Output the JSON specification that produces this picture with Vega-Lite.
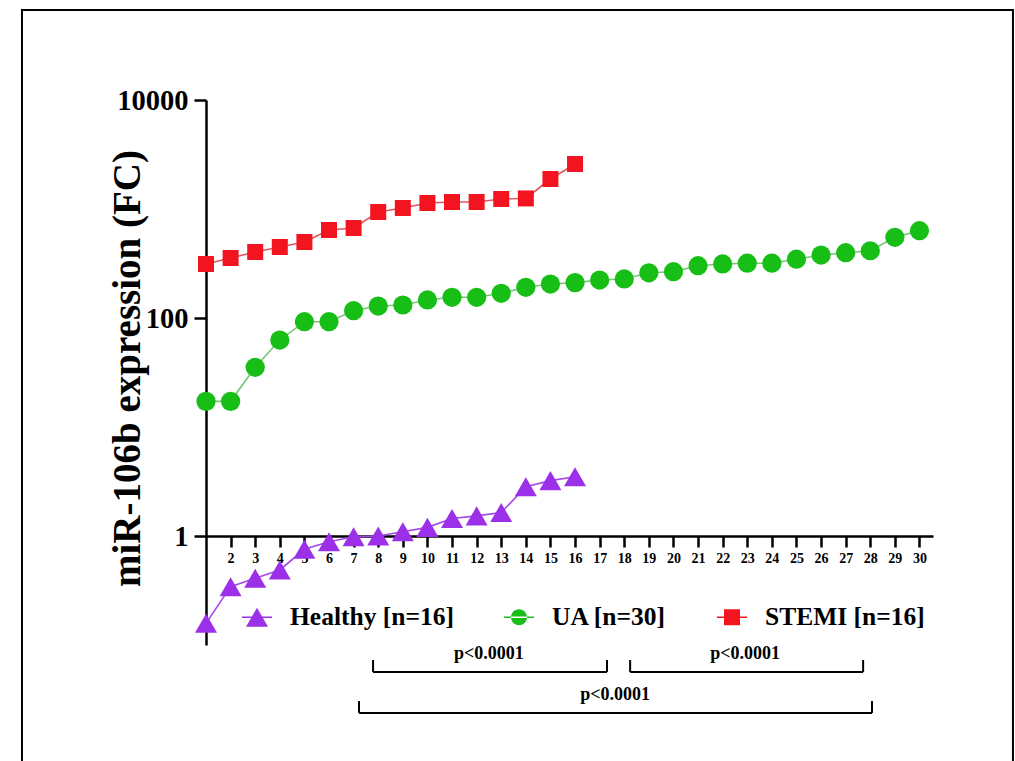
{
  "$schema": "https://vega.github.io/schema/vega-lite/v6.json",
  "width": 727,
  "height": 545,
  "autosize": {"type": "none"},
  "padding": {"left": 206, "top": 100, "right": 82, "bottom": 116},
  "background": "white",
  "config": {
    "view": {"stroke": null},
    "font": "Liberation Serif",
    "axis": {
      "grid": false, "domainColor": "black", "domainWidth": 2.5,
      "tickColor": "black", "tickWidth": 2.5,
      "labelFont": "Liberation Serif", "labelFontWeight": "bold", "labelColor": "black",
      "labelFlush": false, "labelOverlap": false
    }
  },
  "datasets": {
    "expr": [
      {"g": "Healthy [n=16]", "i": 1, "v": 0.158},
      {"g": "Healthy [n=16]", "i": 2, "v": 0.343},
      {"g": "Healthy [n=16]", "i": 3, "v": 0.409},
      {"g": "Healthy [n=16]", "i": 4, "v": 0.488},
      {"g": "Healthy [n=16]", "i": 5, "v": 0.755},
      {"g": "Healthy [n=16]", "i": 6, "v": 0.887},
      {"g": "Healthy [n=16]", "i": 7, "v": 0.985},
      {"g": "Healthy [n=16]", "i": 8, "v": 1.0},
      {"g": "Healthy [n=16]", "i": 9, "v": 1.095},
      {"g": "Healthy [n=16]", "i": 10, "v": 1.2},
      {"g": "Healthy [n=16]", "i": 11, "v": 1.45},
      {"g": "Healthy [n=16]", "i": 12, "v": 1.53},
      {"g": "Healthy [n=16]", "i": 13, "v": 1.64},
      {"g": "Healthy [n=16]", "i": 14, "v": 2.83},
      {"g": "Healthy [n=16]", "i": 15, "v": 3.22},
      {"g": "Healthy [n=16]", "i": 16, "v": 3.5},
      {"g": "UA [n=30]", "i": 1, "v": 17.2},
      {"g": "UA [n=30]", "i": 2, "v": 17.2},
      {"g": "UA [n=30]", "i": 3, "v": 35.3},
      {"g": "UA [n=30]", "i": 4, "v": 62.8},
      {"g": "UA [n=30]", "i": 5, "v": 92.5},
      {"g": "UA [n=30]", "i": 6, "v": 92.5},
      {"g": "UA [n=30]", "i": 7, "v": 116.7},
      {"g": "UA [n=30]", "i": 8, "v": 128.8},
      {"g": "UA [n=30]", "i": 9, "v": 131.6},
      {"g": "UA [n=30]", "i": 10, "v": 146.3},
      {"g": "UA [n=30]", "i": 11, "v": 154.9},
      {"g": "UA [n=30]", "i": 12, "v": 154.9},
      {"g": "UA [n=30]", "i": 13, "v": 168.6},
      {"g": "UA [n=30]", "i": 14, "v": 191.4},
      {"g": "UA [n=30]", "i": 15, "v": 205},
      {"g": "UA [n=30]", "i": 16, "v": 211},
      {"g": "UA [n=30]", "i": 17, "v": 223},
      {"g": "UA [n=30]", "i": 18, "v": 228},
      {"g": "UA [n=30]", "i": 19, "v": 260},
      {"g": "UA [n=30]", "i": 20, "v": 266},
      {"g": "UA [n=30]", "i": 21, "v": 302},
      {"g": "UA [n=30]", "i": 22, "v": 313},
      {"g": "UA [n=30]", "i": 23, "v": 318},
      {"g": "UA [n=30]", "i": 24, "v": 318},
      {"g": "UA [n=30]", "i": 25, "v": 346},
      {"g": "UA [n=30]", "i": 26, "v": 378},
      {"g": "UA [n=30]", "i": 27, "v": 397},
      {"g": "UA [n=30]", "i": 28, "v": 414},
      {"g": "UA [n=30]", "i": 29, "v": 550},
      {"g": "UA [n=30]", "i": 30, "v": 632},
      {"g": "STEMI [n=16]", "i": 1, "v": 313},
      {"g": "STEMI [n=16]", "i": 2, "v": 355},
      {"g": "STEMI [n=16]", "i": 3, "v": 403},
      {"g": "STEMI [n=16]", "i": 4, "v": 448},
      {"g": "STEMI [n=16]", "i": 5, "v": 498},
      {"g": "STEMI [n=16]", "i": 6, "v": 642},
      {"g": "STEMI [n=16]", "i": 7, "v": 669},
      {"g": "STEMI [n=16]", "i": 8, "v": 938},
      {"g": "STEMI [n=16]", "i": 9, "v": 1021},
      {"g": "STEMI [n=16]", "i": 10, "v": 1135},
      {"g": "STEMI [n=16]", "i": 11, "v": 1159},
      {"g": "STEMI [n=16]", "i": 12, "v": 1159},
      {"g": "STEMI [n=16]", "i": 13, "v": 1236},
      {"g": "STEMI [n=16]", "i": 14, "v": 1250},
      {"g": "STEMI [n=16]", "i": 15, "v": 1884},
      {"g": "STEMI [n=16]", "i": 16, "v": 2587}
    ],
    "segments": [
      {"i": 7.79, "i2": 17.3, "v": 0.0565, "v2": 0.0565},
      {"i": 7.79, "i2": 7.79, "v": 0.0565, "v2": 0.0728},
      {"i": 17.3, "i2": 17.3, "v": 0.0565, "v2": 0.0728},
      {"i": 18.24, "i2": 27.71, "v": 0.0565, "v2": 0.0565},
      {"i": 18.24, "i2": 18.24, "v": 0.0565, "v2": 0.0728},
      {"i": 27.71, "i2": 27.71, "v": 0.0565, "v2": 0.0728},
      {"i": 7.22, "i2": 28.07, "v": 0.0238, "v2": 0.0238},
      {"i": 7.22, "i2": 7.22, "v": 0.0238, "v2": 0.0306},
      {"i": 28.07, "i2": 28.07, "v": 0.0238, "v2": 0.0306}
    ],
    "plabels": [
      {"i": 12.5, "v": 0.0826, "t": "p<0.0001"},
      {"i": 22.91, "v": 0.0826, "t": "p<0.0001"},
      {"i": 17.63, "v": 0.0348, "t": "p<0.0001"}
    ],
    "frame": [
      {"i": -6.48, "i2": 33.8, "v": 66990, "v2": 0.0064}
    ]
  },
  "encoding": {
    "x": {
      "field": "i", "type": "quantitative",
      "scale": {"domain": [1, 30.55], "nice": false, "zero": false},
      "axis": {
        "values": [2, 3, 4, 5, 6, 7, 8, 9, 10, 11, 12, 13, 14, 15, 16, 17, 18, 19, 20, 21, 22, 23, 24, 25, 26, 27, 28, 29, 30],
        "format": "d", "offset": -109, "title": null,
        "tickSize": 11, "labelFontSize": 14, "labelPadding": 4
      }
    },
    "y": {
      "field": "v", "type": "quantitative",
      "scale": {"type": "log", "domain": [0.1, 10000], "nice": false},
      "axis": {
        "values": [1, 100, 10000], "format": "d",
        "tickSize": 12, "labelFontSize": 28.5, "labelPadding": 6,
        "title": "miR-106b expression (FC)",
        "titleFont": "Liberation Serif", "titleFontSize": 39, "titleFontWeight": "bold", "titleColor": "black",
        "titleX": -67, "titleY": 268, "titleAngle": -90, "titleAlign": "center", "titleBaseline": "alphabetic"
      }
    }
  },
  "layer": [
    {
      "data": {"name": "frame"},
      "mark": {"type": "rect", "filled": false, "stroke": "black", "strokeWidth": 2},
      "encoding": {
        "x2": {"field": "i2"},
        "y2": {"field": "v2"}
      }
    },
    {
      "data": {"name": "expr"},
      "mark": {"type": "line", "strokeWidth": 1.6},
      "encoding": {
        "color": {
          "field": "g", "type": "nominal",
          "scale": {"domain": ["Healthy [n=16]", "UA [n=30]", "STEMI [n=16]"], "range": ["#a548e6", "#78c478", "#e0585e"]},
          "legend": null
        }
      }
    },
    {
      "data": {"name": "expr"},
      "mark": {"type": "point", "filled": true, "opacity": 1, "strokeWidth": 0},
      "encoding": {
        "color": {
          "field": "g", "type": "nominal",
          "scale": {"domain": ["Healthy [n=16]", "UA [n=30]", "STEMI [n=16]"], "range": ["#9b30e8", "#16be16", "#f2141e"]},
          "legend": {
            "title": null, "orient": "none", "legendX": 36, "legendY": 502, "direction": "horizontal",
            "labelFont": "Liberation Serif", "labelFontSize": 25.5, "labelFontWeight": "bold", "labelColor": "black",
            "labelLimit": 400, "labelOffset": 18, "columnPadding": 50, "symbolSize": 900, "symbolStrokeWidth": 0,
            "symbolOpacity": 1, "padding": 0,
            "encode": {
              "symbols": {
                "update": {
                  "shape": {"signal": "datum.value === 'Healthy [n=16]' ? 'M-1,-0.05L1,-0.05L1,0.05L-1,0.05Z M0,-0.633L0.733,0.633L-0.733,0.633Z' : datum.value === 'UA [n=30]' ? 'M-1,-0.05L1,-0.05L1,0.05L-1,0.05Z M-0.533,0A0.533,0.533,0,1,0,0.533,0A0.533,0.533,0,1,0,-0.533,0Z' : 'M-1,-0.05L1,-0.05L1,0.05L-1,0.05Z M-0.533,-0.533L0.533,-0.533L0.533,0.533L-0.533,0.533Z'"},
                  "size": {"value": 900}
                }
              }
            }
          }
        },
        "shape": {
          "field": "g", "type": "nominal",
          "scale": {"domain": ["Healthy [n=16]", "UA [n=30]", "STEMI [n=16]"], "range": ["triangle-up", "circle", "square"]},
          "legend": {
            "title": null, "orient": "none", "legendX": 36, "legendY": 502, "direction": "horizontal",
            "labelFont": "Liberation Serif", "labelFontSize": 25.5, "labelFontWeight": "bold", "labelColor": "black",
            "labelLimit": 400, "labelOffset": 18, "columnPadding": 50, "symbolSize": 900, "symbolStrokeWidth": 0,
            "symbolOpacity": 1, "padding": 0
          }
        },
        "size": {
          "field": "g", "type": "nominal",
          "scale": {"domain": ["Healthy [n=16]", "UA [n=30]", "STEMI [n=16]"], "range": [484, 256, 272]},
          "legend": null
        }
      }
    },
    {
      "data": {"name": "segments"},
      "mark": {"type": "rule", "color": "black", "strokeWidth": 2},
      "encoding": {
        "x2": {"field": "i2"},
        "y2": {"field": "v2"}
      }
    },
    {
      "data": {"name": "plabels"},
      "mark": {"type": "text", "font": "Liberation Serif", "fontSize": 18, "fontWeight": "bold", "color": "black", "baseline": "middle", "align": "center"},
      "encoding": {
        "text": {"field": "t"}
      }
    }
  ],
  "resolve": {"scale": {"color": "independent"}}
}
